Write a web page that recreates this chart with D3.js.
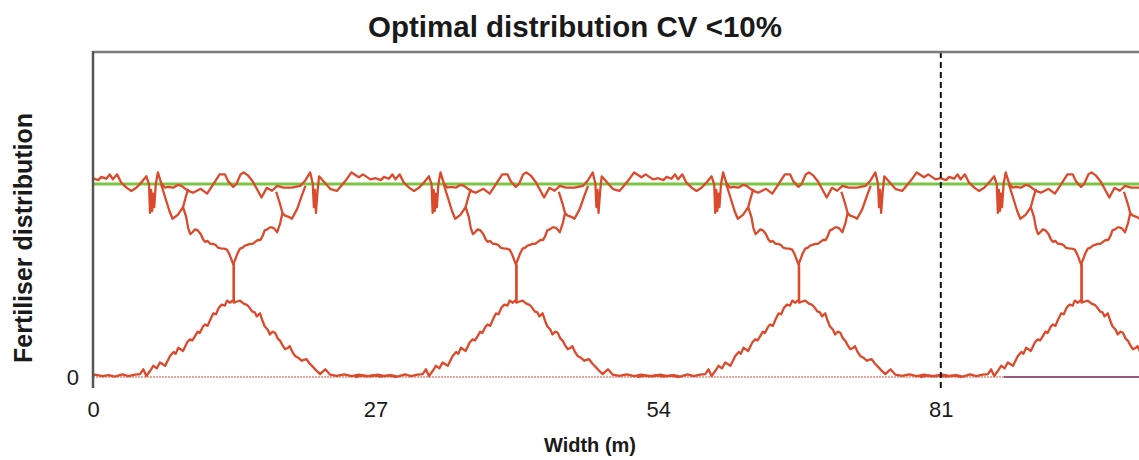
<!DOCTYPE html>
<html>
<head>
<meta charset="utf-8">
<script src="https://cdn.jsdelivr.net/npm/d3@7"></script>
<style>
  html, body { margin: 0; padding: 0; background: #fff; }
  svg { display: block; }
  text { font-family: "Liberation Sans", Arial, sans-serif; fill: #1a1a1a; }
</style>
</head>
<body>
<svg id="chart" width="1139" height="460"></svg>
<script>
// ---------------- data ----------------
const chartTitle = "Optimal distribution CV <10%";
const xTitle = "Width (m)";
const yTitle = "Fertiliser distribution";
const xTickValues = [0, 27, 54, 81];
const yTickValues = [0];
const markerX = 81;            // dashed vertical line
const targetLevel = 1;         // green target line
const tramlines = [0, 27, 54, 81, 108];   // pass centres (m)
const bandStarts = [0, 27, 54, 81];       // 27 m bands for the summed distribution

// summed distribution inside one 27 m band (u = metres from band start)
const totalU = [0, 0.5, 0.8, 1.27, 1.6, 1.9, 2.3, 2.7, 3.2, 3.66, 4.14, 4.6, 5.1, 5.35, 5.45, 5.55, 5.65, 5.75, 5.85, 6.0, 6.2, 6.5, 6.85, 7.2, 7.65, 8.1, 8.45, 9.1, 9.56, 10.3, 10.9, 11.5, 12.1, 12.6, 12.9, 13.4, 13.7, 14.1, 14.4, 14.8, 15.3, 15.7, 16.1, 16.6, 17.1, 17.6, 18.2, 19.0, 19.8, 20.3, 20.75, 21.0, 21.1, 21.2, 21.3, 21.45, 21.6, 22.0, 22.7, 23.3, 24.1, 24.7, 25.4, 25.8, 26.5, 27];
const totalV = [1.03, 1.02, 1.037, 1.027, 1.05, 1.024, 1.05, 1.007, 0.981, 0.964, 0.981, 1.007, 1.04, 0.998, 0.85, 0.97, 0.86, 0.95, 0.88, 1.0, 1.06, 1.007, 0.981, 0.985, 0.981, 0.995, 0.99, 0.964, 0.955, 0.975, 0.95, 1.0, 1.05, 1.05, 1.015, 0.985, 1.0, 1.05, 1.06, 1.045, 1.01, 0.97, 0.93, 0.98, 0.965, 0.99, 0.981, 0.981, 0.99, 1.02, 1.06, 1.0, 0.88, 0.97, 0.85, 0.96, 1.04, 1.015, 0.973, 0.964, 1.015, 1.06, 1.035, 1.05, 1.024, 1.03];

// single-pass pattern, left tail (offset from tramline, m)
const leftTailD = [-29, -28.2, -27.5, -26.8, -26.1, -25.5, -24.9, -24.2, -23.6, -23.0, -22.5, -22.2, -21.9, -21.5, -21.24, -20.9, -20.6, -20.1, -19.64, -19.3, -19.1, -18.85, -18.4, -18.0, -17.73, -17.5, -17.25, -17.0, -16.8, -16.5, -16.3, -16.05, -15.8, -15.5, -15.25, -15.0, -14.7, -14.4, -14.2, -13.9, -13.7, -13.55, -13.55, -13.4, -13.2, -12.95, -12.7, -12.5, -12.25, -12.0, -11.75, -11.5, -11.25, -11.0, -10.8, -10.6, -10.35, -10.1, -9.9, -9.7, -9.4, -9.1, -8.9, -8.65, -8.3, -8.0, -7.5, -7.05, -6.7];
const leftTailV = [0, 0.008, 0.003, 0.012, 0.004, 0.01, 0.002, 0.014, 0.005, 0.012, 0.015, 0.04, 0.005, 0.035, 0.058, 0.045, 0.075, 0.058, 0.109, 0.13, 0.12, 0.152, 0.135, 0.18, 0.195, 0.19, 0.212, 0.235, 0.228, 0.26, 0.272, 0.265, 0.297, 0.33, 0.325, 0.357, 0.375, 0.37, 0.396, 0.385, 0.395, 0.39, 0.59, 0.61, 0.64, 0.665, 0.67, 0.68, 0.685, 0.69, 0.69, 0.70, 0.71, 0.71, 0.73, 0.76, 0.765, 0.775, 0.775, 0.77, 0.75, 0.80, 0.85, 0.836, 0.83, 0.82, 0.87, 0.94, 0.99];

// single-pass pattern, right tail
const rightTailD = [6.5, 6.9, 7.3, 7.6, 8.1, 8.6, 8.9, 9.1, 9.3, 9.5, 9.75, 10.0, 10.3, 10.5, 10.7, 10.95, 11.2, 11.45, 11.7, 11.95, 12.2, 12.5, 12.8, 13.0, 13.15, 13.35, 13.45, 13.45, 13.7, 14.05, 14.4, 14.7, 14.95, 15.2, 15.45, 15.65, 15.96, 16.2, 16.4, 16.7, 16.9, 17.15, 17.4, 17.65, 17.9, 18.1, 18.35, 18.6, 18.8, 19.05, 19.3, 19.6, 19.95, 20.2, 20.4, 20.7, 21.06, 21.4, 21.7, 22.0, 22.2, 22.45, 22.66, 23.3, 24.0, 24.7, 25.4, 26.1, 26.8, 27.5, 28.2, 29];
const rightTailV = [1.0, 0.93, 0.86, 0.82, 0.84, 0.88, 0.83, 0.77, 0.74, 0.75, 0.765, 0.76, 0.74, 0.715, 0.70, 0.705, 0.69, 0.69, 0.685, 0.67, 0.667, 0.665, 0.66, 0.64, 0.62, 0.59, 0.58, 0.385, 0.39, 0.396, 0.38, 0.374, 0.36, 0.34, 0.335, 0.314, 0.33, 0.29, 0.263, 0.245, 0.22, 0.235, 0.229, 0.2, 0.186, 0.165, 0.144, 0.15, 0.16, 0.13, 0.109, 0.1, 0.084, 0.09, 0.092, 0.07, 0.05, 0.03, 0.015, 0.03, 0.04, 0.025, 0.012, 0.006, 0.014, 0.004, 0.012, 0.003, 0.01, 0.002, 0.008, 0];

// short branches closing the small loops near the top
const leftBranchD = [-8.9, -9.15, -9.5];
const leftBranchV = [0.85, 0.90, 0.96];
const rightBranchD = [8.6, 8.85, 9.1];
const rightBranchV = [0.88, 0.93, 0.975];

// zero-level segments along the bottom
const baseRedX = [0, 87];
const basePurpleX = [87, 108];

// ---------------- drawing ----------------
const svg = d3.select("#chart");
const W = 1139;
const plotTop = 52, plotBottom = 377;

const x = d3.scaleLinear().domain([0, 27]).range([93, 375.6]);
const y = d3.scaleLinear().domain([0, 1.684]).range([plotBottom, plotTop]);

const red = "#dc4a2c";
const green = "#7cc444";

svg.append("defs").append("clipPath").attr("id", "clip")
  .append("rect").attr("x", x(0)).attr("y", plotTop - 2)
  .attr("width", W - x(0)).attr("height", plotBottom - plotTop + 14);

const plot = svg.append("g").attr("clip-path", "url(#clip)");
const line = d3.line().x(d => x(d[0])).y(d => y(d[1]));

// zero-level lines
plot.append("path").datum(baseRedX.map(v => [v, 0]))
  .attr("d", line).attr("fill", "none").attr("stroke", "#e58a78")
  .attr("stroke-width", 1.6).attr("stroke-dasharray", "2,1");
plot.append("path").datum(basePurpleX.map(v => [v, 0]))
  .attr("d", line).attr("fill", "none").attr("stroke", "#9a5a7c")
  .attr("stroke-width", 2);

// target line
plot.append("path").datum([[0, targetLevel], [108, targetLevel]])
  .attr("d", line).attr("fill", "none").attr("stroke", green).attr("stroke-width", 3);

// pass patterns
const tails = [
  [leftTailD, leftTailV], [rightTailD, rightTailV],
  [leftBranchD, leftBranchV], [rightBranchD, rightBranchV]
];
tramlines.forEach(t => {
  tails.forEach(([ds, vs]) => {
    plot.append("path").datum(ds.map((d, i) => [t + d, vs[i]]))
      .attr("d", line).attr("fill", "none").attr("stroke", red)
      .attr("stroke-width", 2.3).attr("stroke-linejoin", "round");
  });
});

// summed distribution
const totalPts = [];
bandStarts.forEach(b => totalU.forEach((u, i) => totalPts.push([b + u, totalV[i]])));
plot.append("path").datum(totalPts)
  .attr("d", line).attr("fill", "none").attr("stroke", red)
  .attr("stroke-width", 2.3).attr("stroke-linejoin", "round");

// dashed marker
svg.append("line")
  .attr("x1", x(markerX)).attr("x2", x(markerX))
  .attr("y1", plotTop).attr("y2", 389)
  .attr("stroke", "#111").attr("stroke-width", 2).attr("stroke-dasharray", "6,4");

// frame: top border and left axis
svg.append("line").attr("x1", x(0)).attr("x2", W).attr("y1", plotTop).attr("y2", plotTop)
  .attr("stroke", "#7a7a7a").attr("stroke-width", 2.5);

const yAxis = d3.axisLeft(y).tickValues(yTickValues).tickSize(0).tickPadding(14).tickFormat(d3.format("d"));
const gy = svg.append("g").attr("transform", `translate(${x(0)},0)`).call(yAxis);
gy.select(".domain").remove();
gy.selectAll("text").attr("font-size", 22).style("font-family", "Liberation Sans, Arial, sans-serif").attr("fill", "#1a1a1a");
svg.append("line").attr("x1", x(0)).attr("x2", x(0)).attr("y1", plotTop - 1).attr("y2", 388)
  .attr("stroke", "#555").attr("stroke-width", 2.5);

const xAxis = d3.axisBottom(x).tickValues(xTickValues).tickSize(0).tickPadding(0).tickFormat(d3.format("d"));
const gx = svg.append("g").attr("transform", `translate(0,${plotBottom + 24})`).call(xAxis);
gx.select(".domain").remove();
gx.selectAll("text").attr("font-size", 22).attr("dy", "0.71em").style("font-family", "Liberation Sans, Arial, sans-serif").attr("fill", "#1a1a1a");

// titles
svg.append("text").attr("x", 575).attr("y", 37).attr("text-anchor", "middle")
  .attr("font-size", 29.5).attr("font-weight", "bold").text(chartTitle);
svg.append("text").attr("x", 590).attr("y", 452).attr("text-anchor", "middle")
  .attr("font-size", 20).attr("font-weight", "bold").text(xTitle);
svg.append("text").attr("transform", "translate(32,238) rotate(-90)").attr("text-anchor", "middle")
  .attr("font-size", 25).attr("font-weight", "bold").text(yTitle);
</script>
</body>
</html>
